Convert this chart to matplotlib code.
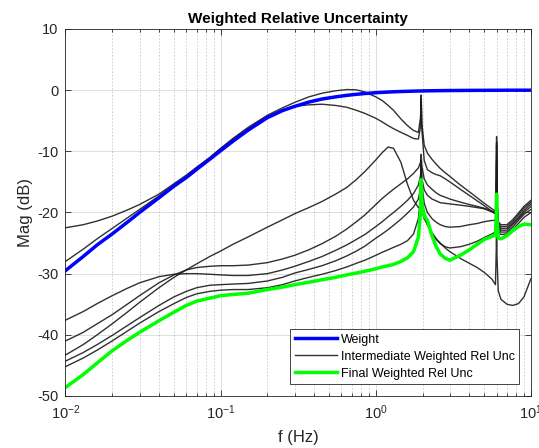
import numpy as np
import matplotlib
matplotlib.use("Agg")
import matplotlib.pyplot as plt
from matplotlib.ticker import LogLocator, MultipleLocator, NullFormatter

# frequency grid (Hz) shared by every curve
freq = [0.01, 0.013, 0.016, 0.02, 0.025, 0.03, 0.04, 0.05, 0.06, 0.07,
        0.085, 0.1, 0.12, 0.15, 0.2, 0.25, 0.3, 0.37, 0.45, 0.55,
        0.65, 0.75, 0.85, 1.0, 1.1, 1.2, 1.3, 1.45, 1.6, 1.75,
        1.88, 1.94, 1.96, 1.98, 2.05, 2.15, 2.3, 2.45, 2.6, 2.8,
        3.0, 3.5, 4.0, 4.5, 5.0, 5.6, 5.9, 5.97, 6.0, 6.03,
        6.15, 6.4, 7.0, 7.6, 8.3, 9.0, 10.0]

weight_db = [-29.5, -27.2, -25.3, -23.5, -21.6, -20.0, -17.6, -15.7, -14.3, -12.95,
             -11.3, -9.9, -8.35, -6.55, -4.5, -3.35, -2.65, -1.95, -1.45, -1.1,
             -0.85, -0.68, -0.55, -0.42, -0.36, -0.31, -0.27, -0.22, -0.19, -0.16,
             -0.14, -0.13, -0.13, -0.13, -0.12, -0.11, -0.1, -0.09, -0.08, -0.07,
             -0.06, -0.05, -0.04, -0.03, -0.03, -0.02, -0.02, -0.02, -0.02, -0.02,
             -0.02, -0.02, -0.01, -0.01, -0.01, -0.01, -0.01]

inter_1 = [-22.5, -22.0, -21.4, -20.6, -19.6, -18.7, -17.0, -15.3, -13.9, -12.6,
           -11.0, -9.5, -7.9, -6.1, -4.1, -2.9, -2.0, -1.1, -0.5, -0.1,
           0.1, 0.05, -0.3, -1.1, -1.7, -2.5, -3.3, -4.7, -5.8, -6.6,
           -6.9, -4.5, -0.8, -5.5, -9.0, -10.3, -11.3, -12.1, -12.8, -13.5,
           -14.1, -15.5, -16.6, -17.6, -18.5, -19.4, -19.8, -16.5, -7.6, -17.5,
           -21.5, -22.0, -22.0, -21.2, -20.1, -19.0, -18.0]

inter_2 = [-28.0, -26.0, -24.3, -22.6, -20.9, -19.5, -17.3, -15.5, -14.1, -12.75,
           -11.1, -9.6, -8.0, -6.3, -4.3, -3.2, -2.65, -2.4, -2.3, -2.5,
           -2.8, -3.3, -3.8, -4.6, -5.2, -5.8, -6.3, -6.9, -7.4, -7.9,
           -8.0, -6.0, -1.5, -6.5, -11.5, -13.0, -13.5, -13.8, -14.0, -14.5,
           -15.0, -16.2, -17.2, -18.1, -18.9, -19.8, -20.2, -17.0, -8.5, -18.0,
           -21.8, -22.3, -22.3, -21.5, -20.4, -19.3, -18.3]

inter_3 = [-37.6, -36.2, -34.9, -33.6, -32.4, -31.5, -30.5, -30.1, -30.0, -30.0,
           -30.1, -30.2, -30.3, -30.3, -30.0, -29.4, -28.8, -28.0, -27.2, -26.2,
           -25.3, -24.4, -23.6, -22.3, -21.5, -20.7, -20.0, -19.0, -18.0, -16.9,
           -15.5, -14.0, -12.0, -15.5, -18.5, -20.0, -21.0, -21.6, -22.0, -22.3,
           -22.4, -22.3, -22.0, -21.8, -21.5, -21.3, -21.3, -18.5, -12.5, -19.0,
           -22.6, -23.2, -23.2, -22.4, -21.3, -20.3, -19.5]

inter_4 = [-41.0, -39.6, -38.2, -36.7, -35.0, -33.6, -31.5, -30.2, -29.4, -29.0,
           -28.8, -28.7, -28.7, -28.6, -28.2, -27.6, -27.0, -26.1, -25.1, -23.9,
           -22.7, -21.5, -20.4, -18.7, -17.7, -16.9, -16.2, -15.3, -14.5, -13.6,
           -12.7, -11.8, -10.5, -12.5, -14.5, -15.5, -16.2, -16.8, -17.2, -17.5,
           -17.8, -18.3, -18.7, -19.0, -19.3, -19.8, -20.0, -17.5, -10.5, -18.0,
           -22.0, -22.6, -22.6, -21.8, -20.8, -19.7, -18.6]

inter_5 = [-43.3, -41.6, -40.0, -38.2, -36.3, -34.7, -32.3, -30.6, -29.4, -28.4,
           -27.2, -26.3, -25.2, -24.0, -22.4, -21.2, -20.2, -19.2, -18.2, -17.0,
           -15.9, -14.6, -13.3, -11.4, -10.2, -9.3, -9.5, -11.8, -15.4, -18.0,
           -19.2, -19.0, -16.0, -19.8, -21.0, -22.0, -23.3, -24.3, -25.0, -25.8,
           -26.4, -27.5, -28.3, -29.0, -29.8, -30.9, -31.8, -26.0, -9.0, -27.0,
           -32.8, -34.2, -35.0, -35.2, -34.9, -33.8, -30.8]

inter_6 = [-44.3, -42.9, -41.6, -40.1, -38.5, -37.2, -35.2, -33.8, -32.9, -32.3,
           -31.9, -31.8, -31.7, -31.6, -31.2, -30.6, -29.9, -29.3, -28.7, -27.9,
           -27.1, -26.3, -25.5, -24.2, -23.5, -22.8, -22.1, -21.1, -20.1, -19.1,
           -17.8, -16.0, -13.5, -17.5, -20.5, -22.0, -23.4, -24.4, -25.1, -25.6,
           -25.8, -25.6, -25.2, -24.7, -24.1, -23.5, -23.2, -20.5, -14.5, -20.5,
           -23.0, -23.6, -23.5, -22.8, -21.8, -20.8, -20.0]

inter_7 = [-45.2, -43.8, -42.5, -41.0, -39.4, -38.1, -36.2, -34.9, -33.9, -33.3,
           -32.9, -32.7, -32.6, -32.6, -32.3, -31.8, -31.2, -30.6, -30.1, -29.5,
           -28.9, -28.3, -27.8, -27.0, -26.5, -26.1, -25.7, -25.2, -24.6, -23.5,
           -21.0, -17.5, -11.5, -14.5, -16.3, -17.2, -17.8, -18.1, -18.4, -18.5,
           -18.6, -18.8, -19.0, -19.2, -19.4, -19.9, -20.2, -18.0, -11.5, -18.5,
           -22.3, -22.9, -22.9, -22.0, -21.0, -20.0, -19.0]

final_db = [-48.6, -46.5, -44.6, -42.6, -40.9, -39.6, -37.7, -36.3, -35.2, -34.5,
            -34.0, -33.6, -33.4, -33.2, -32.6, -32.2, -31.8, -31.4, -31.0, -30.6,
            -30.2, -29.9, -29.6, -29.2, -28.9, -28.7, -28.5, -28.0, -27.4, -26.4,
            -24.0, -20.0, -14.6, -18.5, -20.5, -21.3, -23.8, -25.6, -26.8, -27.5,
            -27.8, -27.0, -26.1, -25.2, -24.4, -23.9, -23.7, -20.5, -17.0, -21.0,
            -24.2, -24.3, -23.8, -23.0, -22.3, -21.9, -22.0]

intermediate = [inter_1, inter_2, inter_3, inter_4, inter_5, inter_6, inter_7]

plt.rcParams["font.family"] = ["Liberation Sans", "DejaVu Sans"]
plt.rcParams["axes.unicode_minus"] = False

fig = plt.figure(figsize=(5.39, 4.48), dpi=100)
ax = fig.add_axes([0.1215, 0.1161, 0.8637, 0.8192])

ink = "#262626"
for i, curve in enumerate(intermediate):
    h = ax.semilogx(freq, curve, color="#1a1a1a", lw=1.0, alpha=0.9)[0]
    if i == 0:
        h_inter = h
h_weight = ax.semilogx(freq, weight_db, color="#0000ff", lw=2.5)[0]
h_final = ax.semilogx(freq, final_db, color="#00ff00", lw=2.5)[0]

ax.set_xlim(0.01, 10)
ax.set_ylim(-50, 10)
ax.yaxis.set_major_locator(MultipleLocator(10))
ax.xaxis.set_major_locator(LogLocator(base=10))
ax.xaxis.set_minor_locator(LogLocator(base=10, subs=np.arange(2, 10)))
ax.xaxis.set_minor_formatter(NullFormatter())

ax.grid(which="major", color=ink, alpha=0.15, lw=0.7, ls="-")
ax.grid(which="minor", axis="x", color=ink, alpha=0.25, lw=0.6, ls=(0, (2, 2)))
ax.set_axisbelow(True)

ax.tick_params(which="both", direction="in", top=True, right=True,
               colors=ink, labelsize=10.5, width=0.6)
ax.tick_params(which="major", length=4, pad=5)
ax.tick_params(which="minor", length=2.5)
for s in ax.spines.values():
    s.set_color(ink)
    s.set_linewidth(0.6)

ax.set_title("Weighted Relative Uncertainty", fontsize=11, fontweight="bold",
             color="#000000", pad=4)
ax.set_xlabel("f (Hz)", fontsize=12, color=ink, labelpad=6)
ax.set_ylabel("Mag (dB)", fontsize=12, color=ink, labelpad=3)

leg = ax.legend([h_weight, h_inter, h_final],
                ["Weight", "Intermediate Weighted Rel Unc", "Final Weighted Rel Unc"],
                loc="lower right", bbox_to_anchor=(0.975, 0.033), borderaxespad=0,
                fontsize=9, fancybox=False, framealpha=1, edgecolor=ink,
                handlelength=3.4, handletextpad=0.3, borderpad=0.35,
                labelspacing=0.4)
leg.get_frame().set_linewidth(0.6)

fig.savefig("out.png", dpi=100)
